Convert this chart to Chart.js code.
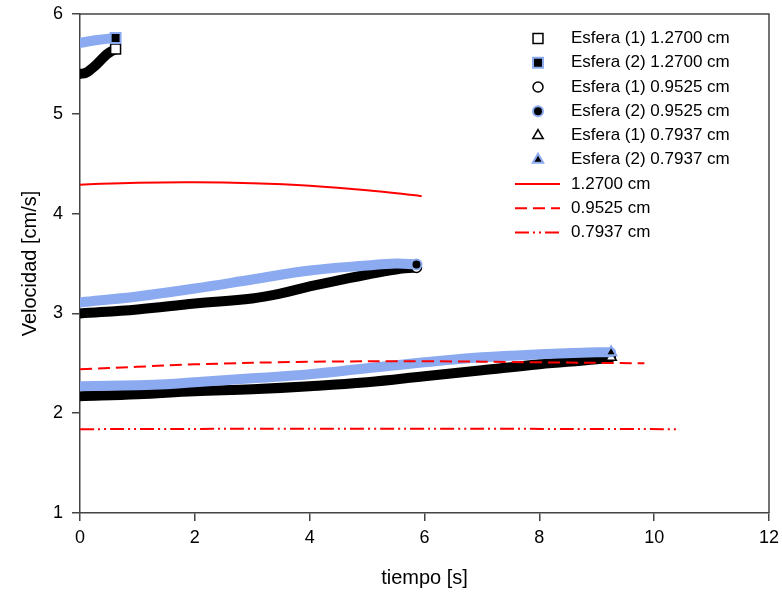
<!DOCTYPE html>
<html>
<head>
<meta charset="utf-8">
<script src="https://cdn.jsdelivr.net/npm/chart.js@4.4.0/dist/chart.umd.min.js"></script>
<style>
  html, body { margin: 0; padding: 0; background: #fff; overflow: hidden; }
  #caja { width: 782px; height: 599px; }
  canvas { display: block; }
</style>
</head>
<body>
<div id="caja"><canvas id="grafico"></canvas></div>
<script>
// Esfera 1.2700 cm
var tE1_127 = [0, 0.1, 0.2, 0.3, 0.4, 0.5, 0.62];
var vE1_127 = [5.40, 5.41, 5.45, 5.50, 5.56, 5.61, 5.65];
var tE2_127 = [0, 0.3, 0.62];
var vE2_127 = [5.71, 5.74, 5.76];

// Esfera 0.9525 cm
var tE1_095 = [0, 1, 2, 3, 3.5, 4, 4.5, 5, 5.5, 5.86];
var vE1_095 = [3.00, 3.04, 3.10, 3.15, 3.20, 3.27, 3.33, 3.39, 3.44, 3.46];
var tE2_095 = [0, 1, 2, 3, 4, 5, 5.5, 5.86];
var vE2_095 = [3.11, 3.17, 3.25, 3.34, 3.43, 3.48, 3.50, 3.49];

// Esfera 0.7937 cm
var tE1_079 = [0, 1, 2, 3, 4, 5, 6, 7, 8, 9, 9.25];
var vE1_079 = [2.17, 2.19, 2.22, 2.24, 2.27, 2.31, 2.37, 2.43, 2.49, 2.54, 2.56];
var tE2_079 = [0, 1, 1.5, 2, 3, 4, 5, 6, 7, 8, 9, 9.25];
var vE2_079 = [2.27, 2.28, 2.29, 2.31, 2.35, 2.39, 2.45, 2.51, 2.56, 2.59, 2.61, 2.61];

// curvas teoricas
var tTeo127 = [0, 1, 2, 3, 4, 5, 5.95];
var vTeo127 = [4.29, 4.31, 4.315, 4.305, 4.28, 4.235, 4.175];
var tTeo095 = [0, 1, 2, 4, 6, 8, 9.83];
var vTeo095 = [2.44, 2.465, 2.49, 2.515, 2.52, 2.51, 2.50];
var tTeo079 = [0, 5, 10.43];
var vTeo079 = [1.84, 1.845, 1.84];

var ticksX = [0, 2, 4, 6, 8, 10, 12];
var ticksY = [1, 2, 3, 4, 5, 6];

var azul = '#8caaf0';
var rojo = '#ff0000';
var fuente = "'Liberation Sans', Arial, sans-serif";

function puntos(t, v){
    var p = [];
    for (var i = 0; i < t.length; i++) p.push({x: t[i], y: v[i]});
    return p;
}

// solo el ultimo punto lleva marcador
function radioFinal(r){
    return function(ctx){
        return ctx.dataIndex === ctx.dataset.data.length - 1 ? r : 0;
    };
}

function esfera(label, t, v, tipo, estilo, radio, orden){
    var uno = tipo == 1;
    return {
        label: label, data: puntos(t, v), order: orden,
        borderColor: uno ? '#000' : azul, borderWidth: 10,
        borderCapStyle: 'round', borderJoinStyle: 'round',
        tension: 0.4, fill: false,
        pointStyle: estilo, pointRadius: radioFinal(radio),
        pointBackgroundColor: uno ? '#fff' : '#000',
        pointBorderColor: uno ? '#000' : azul,
        pointBorderWidth: uno ? 1.5 : 2
    };
}

function teorica(label, t, v, dash, orden){
    return {
        label: label, data: puntos(t, v), order: orden,
        borderColor: rojo, borderWidth: 2, borderDash: dash,
        tension: 0.4, fill: false, pointRadius: 0
    };
}

var datasets = [
    teorica('1.2700 cm', tTeo127, vTeo127, [], 1),
    teorica('0.9525 cm', tTeo095, vTeo095, [12, 6], 1),
    teorica('0.7937 cm', tTeo079, vTeo079, [14, 4, 2, 4, 2, 4], 1),
    esfera('Esfera (1) 1.2700 cm', tE1_127, vE1_127, 1, 'rect', 7, 3),
    esfera('Esfera (2) 1.2700 cm', tE2_127, vE2_127, 2, 'rect', 7, 2),
    esfera('Esfera (1) 0.9525 cm', tE1_095, vE1_095, 1, 'circle', 5, 3),
    esfera('Esfera (2) 0.9525 cm', tE2_095, vE2_095, 2, 'circle', 5, 2),
    esfera('Esfera (1) 0.7937 cm', tE1_079, vE1_079, 1, 'triangle', 6, 3),
    esfera('Esfera (2) 0.7937 cm', tE2_079, vE2_079, 2, 'triangle', 6, 2)
];

// orden de la leyenda (indices en datasets)
var ordenLeyenda = [3, 4, 5, 6, 7, 8, 0, 1, 2];

// marco superior y derecho
var marco = {
    id: 'marco',
    afterDraw: function(chart){
        var c = chart.ctx, a = chart.chartArea;
        c.save();
        c.strokeStyle = '#444';
        c.lineWidth = 1.5;
        c.beginPath();
        c.moveTo(a.left, a.top);
        c.lineTo(a.right, a.top);
        c.lineTo(a.right, a.bottom);
        c.stroke();
        c.restore();
    }
};

// leyenda dibujada a mano dentro del area
var leyenda = {
    id: 'leyenda',
    afterDraw: function(chart){
        var c = chart.ctx;
        var y0 = 38.5, paso = 24.25;
        c.save();
        c.font = '17px ' + fuente;
        c.textBaseline = 'middle';
        c.textAlign = 'left';
        for (var k = 0; k < ordenLeyenda.length; k++){
            var ds = chart.data.datasets[ordenLeyenda[k]];
            var y = y0 + k * paso;
            if (ds.pointStyle){
                c.fillStyle = ds.pointBackgroundColor;
                c.strokeStyle = ds.pointBorderColor;
                c.lineWidth = ds.pointBorderWidth;
                var r = ds.pointStyle == 'rect' ? 7 : (ds.pointStyle == 'circle' ? 5 : 6);
                Chart.helpers.drawPoint(c, {pointStyle: ds.pointStyle, radius: r, borderWidth: ds.pointBorderWidth, rotation: 0}, 538, y);
            } else {
                c.strokeStyle = rojo;
                c.lineWidth = 2;
                c.setLineDash(ds.borderDash);
                c.beginPath();
                c.moveTo(515, y);
                c.lineTo(560, y);
                c.stroke();
                c.setLineDash([]);
            }
            c.fillStyle = '#000';
            c.fillText(ds.label, 571, y);
        }
        c.restore();
    }
};

new Chart(document.getElementById('grafico'), {
    type: 'line',
    data: { datasets: datasets },
    plugins: [marco, leyenda],
    options: {
        responsive: true,
        maintainAspectRatio: false,
        animation: false,
        layout: { padding: { left: 0, right: 13, top: 14, bottom: 0 } },
        plugins: { legend: { display: false }, tooltip: { enabled: false } },
        scales: {
            x: {
                type: 'linear', min: 0, max: 12,
                afterFit: function(s){ s.height = 86; s.paddingLeft = 0; s.paddingRight = 0; },
                afterBuildTicks: function(s){ s.ticks = ticksX.map(function(v){ return {value: v}; }); },
                grid: { drawOnChartArea: false, drawTicks: true, tickLength: 8, color: '#444', lineWidth: 1.5 },
                border: { color: '#444', width: 1.5 },
                ticks: { color: '#000', padding: 6, maxRotation: 0, font: { family: fuente, size: 18 } },
                title: { display: true, text: 'tiempo [s]', color: '#000', padding: { top: 0, bottom: 9 }, font: { family: fuente, size: 20 } }
            },
            y: {
                type: 'linear', min: 1, max: 6,
                afterFit: function(s){ s.width = 80; s.paddingTop = 0; s.paddingBottom = 0; },
                afterBuildTicks: function(s){ s.ticks = ticksY.map(function(v){ return {value: v}; }); },
                grid: { drawOnChartArea: false, drawTicks: true, tickLength: 8, color: '#444', lineWidth: 1.5 },
                border: { color: '#444', width: 1.5 },
                ticks: { color: '#000', padding: 9, font: { family: fuente, size: 18 } },
                title: { display: true, text: 'Velocidad [cm/s]', color: '#000', padding: { top: 18, bottom: 0 }, font: { family: fuente, size: 20 } }
            }
        }
    }
});
</script>
</body>
</html>
